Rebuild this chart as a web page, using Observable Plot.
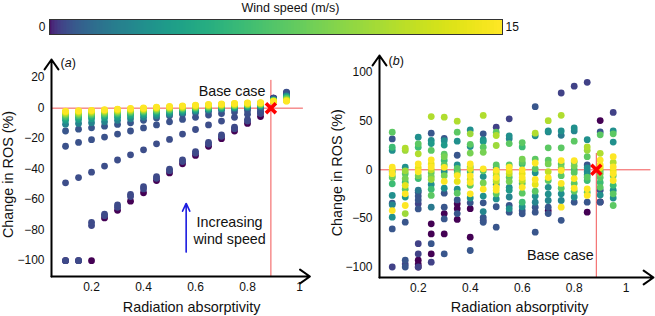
<!DOCTYPE html>
<html><head><meta charset="utf-8">
<script src="https://cdn.jsdelivr.net/npm/d3@7"></script>
<script src="https://cdn.jsdelivr.net/npm/@observablehq/plot@0.6"></script>
<style>
body{margin:0;background:#fff;}
#root{position:relative;width:655px;height:316px;overflow:hidden;font-family:"Liberation Sans",Arial,sans-serif;}
#root svg{position:absolute;}
</style></head><body><div id="root"></div>
<script>
// ---------- data ----------
const absorptivity = [0.1,0.15,0.2,0.25,0.3,0.35,0.4,0.45,0.5,0.55,0.6,0.65,0.7,0.75,0.8,0.85,0.9,0.95];
const xTicks = [0.2,0.4,0.6,0.8,1];
const yTicksA = [-100,-80,-60,-40,-20,0,20];
const yTicksB = [-100,-50,0,50,100];
const windDomain = [0,15];
const baseCaseA = 0.89, baseCaseB = 0.885;

// panel (a): one series per wind speed, values at each absorptivity
const windA = [0,0.5,0.55,0.6,0.7,0.8,2.5,4,5.2,6.8,8.2,9.7,11,12.5,13.7,15];
const rosA = [
 [-100,-100,-100,-72,-67,-61,-55.5,-47.5,-42.5,-36.5,-31,-25,-20,-15,-10,-5.5,6.5,8],
 [-100,-100,-77,-70.5,-65,-58,-53,-46,-41,-35,-29.5,-23.5,-18.5,-13.5,-8.5,-3.5,6.5,9.5],
 [-100,-100,-75,-69.5,-63.5,-56.5,-51.5,-45,-40,-34,-28.5,-22.5,-17.5,-12.5,-7.5,-3,6.5,10],
 [-49,-45.5,-42,-38,-34,-30.6,-27.3,-23.4,-20.5,-17,-14,-11,-8.5,-6,-4,-2,6,10.5],
 [-25,-22.5,-20.7,-19,-17,-15,-13,-11,-9,-7.4,-6,-4.5,-3.5,-2.5,-1.5,-0.5,6,10],
 [-15,-13.8,-12.9,-11.8,-10.7,-9.6,-8,-6.5,-5,-4,-3,-2,-1,-0.5,0,0.5,5.5,9],
 [-10.5,-10,-9.5,-9,-8,-7,-6,-5,-4,-3,-2,-1.2,-0.5,0,0.5,1,5.5,8],
 [-8,-7.5,-7,-6.5,-6,-5.2,-4.4,-3.5,-2.8,-2,-1.2,-0.5,0,0.5,1,1.5,5,7.5],
 [-6.5,-6,-5.5,-5,-4.5,-4,-3.2,-2.5,-1.8,-1.2,-0.5,0,0.5,1,1.5,2,5,7],
 [-5.5,-5,-4.5,-4,-3.5,-3,-2.5,-1.8,-1.2,-0.6,0,0.5,1,1.5,2,2.3,5,6.5],
 [-4.5,-4.2,-3.8,-3.3,-2.8,-2.3,-1.8,-1.2,-0.7,-0.1,0.4,0.9,1.4,1.8,2.2,2.5,4.8,6],
 [-3.8,-3.5,-3.1,-2.6,-2.2,-1.7,-1.3,-0.7,-0.2,0.3,0.8,1.3,1.7,2,2.4,2.8,4.8,5.5],
 [-3.2,-2.9,-2.6,-2.1,-1.7,-1.3,-0.9,-0.3,0.2,0.6,1.1,1.6,2,2.3,2.7,3,4.6,5.2],
 [-2.7,-2.4,-2.1,-1.6,-1.3,-0.9,-0.5,0.1,0.5,0.9,1.4,1.9,2.3,2.6,3,3.2,4.6,5],
 [-2.3,-2,-1.7,-1.3,-0.9,-0.5,-0.2,0.4,0.8,1.2,1.7,2.1,2.5,2.9,3.2,3.4,4.5,4.8],
 [-2,-1.7,-1.4,-1,-0.6,-0.2,0.1,0.7,1.1,1.5,2,2.4,2.8,3.1,3.4,3.6,4.5,4.6]
];

// panel (b): per absorptivity column, [change in ROS, wind speed]
const rosB = [
 [[38.7,7.9],[31.8,0.8],[23.2,6.5],[19.9,3.2],[2.7,15],[0,13.8],[-2,3.8],[-4,15],[-6,9],[-8,7.9],[-14.4,6.5],[-26.4,3.2],[-34.3,0.8],[-36,2.6],[-41.9,15],[-48.7,3.2],[-60.8,0.8],[-100,0.4]],
 [[22.2,11.3],[19.9,10.5],[2.7,3.2],[-1,10.5],[-4,7.9],[-9,9],[-12.7,6.5],[-16,13.8],[-20,7.9],[-24.7,15],[-28,3.8],[-36.7,15],[-45,10.5],[-53.9,0.8],[-93,0.8],[-97,0.4],[-100,0.8]],
 [[33.6,3.2],[26.7,7.9],[23.2,6.5],[16.4,11.3],[6.2,15],[2,13.8],[-2,15],[-6,9],[-9,6.5],[-21,2],[-23,0.8],[-27,0.8],[-31,0.8],[-35,0.4],[-40.2,0.8],[-76,0.4],[-86.5,0.4],[-93,0],[-97,0],[-100,0],[-100,0.4]],
 [[54.8,11.3],[37.7,0.8],[30.2,3.2],[27,3.8],[19.9,7.9],[10.3,15],[6,13.8],[3,15],[0,12],[-3,7.9],[-7,9],[-10,10.5],[-15,3.2],[-20,6.5],[-26.4,7.9],[-38.4,2],[-55.6,0],[-66,0],[-76,0.8],[-86.5,0],[-95,0.4]],
 [[54.1,11.3],[32.3,0.8],[30,3.2],[25.4,3.8],[16.1,7.9],[13.5,9],[9.6,6.5],[5,7.9],[2.5,15],[-2,3.2],[-6,9],[-12,15],[-19,3.2],[-24,0.8],[-38.4,0.8],[-45,0],[-50.5,0.8],[-66,0],[-86.5,0.8]],
 [[50,11.3],[38.7,7.9],[29.5,3.2],[15,0.8],[5,3.2],[1.5,7.9],[-1,3.8],[-4,9],[-5.9,15],[-12,13.8],[-20,3.2],[-24,7.9],[-31,0.8],[-35,0],[-40,0],[-45,0.8],[-51,0]],
 [[41,3.2],[37,10.5],[26.2,7.9],[24,3.2],[17.2,9],[6,15],[3,7.9],[1,13.8],[-2,6.5],[-6,15],[-10,12],[-13,15],[-16,7.9],[-24.7,15],[-29,3.2],[-34,0.8],[-40,0],[-69.3,0],[-83,0.8]],
 [[55.9,11.3],[37,0.8],[31,3.2],[29,3.8],[23.2,7.9],[18,9],[1,15],[-1,7.9],[-7,3.2],[-13.5,9],[-20,15],[-27,3.2],[-34,0.8],[-43,2.6],[-49,0.8],[-52,0.4],[-54,0.8]],
 [[43.8,0.4],[38.7,7.9],[35.3,11.3],[25,10.5],[5,7.9],[2,3.2],[-0.5,15],[-3,12],[-6,7.9],[-8,15],[-10,9],[-12,12],[-15,3.2],[-18,15],[-21,15],[-24.7,7.9],[-30,3.2],[-38,0.8],[-59,0.8]],
 [[52.5,0.4],[35,3.2],[32,2.6],[27,7.9],[5,7.9],[2.7,15],[-1,13.8],[-4,12],[-7.6,7.9],[-12,9],[-18,3.2],[-21,3.8],[-28,2.6],[-36.7,0.8],[-40,3.2],[-43.6,0.8]],
 [[28,7.9],[23.5,6.5],[11,9],[8,7.9],[6.1,6.5],[0,15],[-4,13.8],[-8,15],[-11,12],[-14,7.9],[-18,15],[-24,7.9],[-33.3,6.5],[-38,3.2],[-42,0.8],[-45.3,0.8]],
 [[65,0.8],[37.7,11.3],[35,3.2],[11,7.9],[7,15],[1,7.9],[-3,3.2],[-10,15],[-15,13.8],[-22,7.9],[-27,3.2],[-33.3,2.6],[-38.4,0.8],[-43.6,0.8],[-64.2,0.8]],
 [[50.5,11.3],[40,3.2],[39,2.6],[22.6,7.9],[10,7.9],[6,9],[-2,12],[-8,15],[-11,7.9],[-18,3.2],[-25,3.2],[-31.6,2.6],[-38.4,0.8],[-42,0],[-45,0.8]],
 [[79,0.4],[56,11.3],[40,3.2],[35.5,2],[22.6,7.9],[9.5,15],[6,7.9],[2,9],[-0.7,15],[-6,7.9],[-14,15],[-19,7.9],[-24.7,3.2],[-31.6,2.6],[-38.4,15],[-52,0.8]],
 [[86,0.4],[43,3.2],[40,2.6],[29.5,7.9],[9.5,15],[8,7.9],[4,9],[0,6.5],[-3,7.9],[-9,15],[-14,7.9],[-19,15],[-22,7.9],[-28,3.2],[-33.3,0.8]],
 [[90,0.4],[31,3.2],[23.5,11.3],[20,10.5],[13.5,7.9],[5,0.8],[2,3.2],[-2,2.6],[-5,3.2],[-7.6,7.9],[-11,6.5],[-19.6,15],[-23,7.9],[-26.4,15],[-33.3,0.8],[-43.6,0]],
 [[50.7,0],[39,0.8],[36,7.9],[17,11.3],[10,15],[5,15],[2,13.8],[-1,7.9],[-4,9],[-8,7.9],[-13,6.5],[-18,7.9],[-21,0.8],[-26,3.2],[-33.3,0.8],[-33,0]],
 [[59,0.4],[40,3.2],[37,7.9],[28.5,3.2],[13.5,15],[7.5,11.3],[3,15],[-1,13.8],[-4,15],[-6,7.9],[-11,15],[-16,6.5],[-21,3.2],[-24.7,7.9],[-29,3.2],[-36.7,7.9]]
];

// ---------- layout constants ----------
const FONT = "Liberation Sans, Arial, Helvetica, sans-serif";
const xDomA = [0.046, 1.04], yDomA = [-110.4, 31.9];
const xDomB = [0.051, 1.105], yDomB = [-110.8, 117.6];
const colorOpt = {type: "pow", exponent: 0.45, scheme: "viridis", domain: windDomain};
const fmtTick = d => d < 0 ? "\u2212" + Math.abs(d) : String(d);

const pointsA = windA.flatMap((w, i) => rosA[i].map((v, j) => ({x: absorptivity[j], y: v, wind: w})));
const pointsB = rosB.flatMap((col, j) => col.map(([v, w]) => ({x: absorptivity[j], y: v, wind: w})))
  .sort((a, b) => a.wind - b.wind);

const root = document.getElementById("root");
function place(svg, left, top) {
  svg.style.position = "absolute";
  svg.style.left = left + "px";
  svg.style.top = top + "px";
  root.appendChild(svg);
  return svg;
}
const baseStyle = {background: "transparent", fontFamily: FONT, fontSize: "12px", overflow: "visible", color: "#111"};

function axesMarks(xDom, yDom, yTicks) {
  return [
    Plot.arrow([{x1: xDom[0], y1: yDom[0], x2: xDom[1], y2: yDom[0]}], {x1: "x1", y1: "y1", x2: "x2", y2: "y2", stroke: "#000", strokeWidth: 2, headLength: 9, headAngle: 70}),
    Plot.arrow([{x1: xDom[0], y1: yDom[0], x2: xDom[0], y2: yDom[1]}], {x1: "x1", y1: "y1", x2: "x2", y2: "y2", stroke: "#000", strokeWidth: 2, headLength: 9, headAngle: 70}),
    Plot.text(xTicks, {x: d => d, y: yDom[0], text: d => String(d), dy: 11, fontSize: 12, fill: "#111"}),
    Plot.text(yTicks, {x: xDom[0], y: d => d, text: fmtTick, textAnchor: "end", dx: -7, fontSize: 12, fill: "#111"})
  ];
}

// ---------- colorbar ----------
const rampStep = 15 / 300;
const ramp = d3.range(0, 15, rampStep);
place(Plot.plot({
  width: 655, height: 40, marginLeft: 49, marginRight: 153, marginTop: 19, marginBottom: 6,
  x: {domain: windDomain, axis: null}, color: colorOpt, style: baseStyle,
  marks: [
    Plot.rect(ramp, {x1: d => d, x2: d => Math.min(15, d + rampStep * 1.6), fill: d => d + rampStep / 2, shapeRendering: "crispEdges"}),
    Plot.frame({stroke: "#333", strokeWidth: 1}),
    Plot.text([windDomain[0]], {x: d => d, text: d => String(d), textAnchor: "end", dx: -4, fontSize: 12, fill: "#111"}),
    Plot.text([windDomain[1]], {x: d => d, text: d => String(d), textAnchor: "start", dx: 3, fontSize: 12, fill: "#111"}),
    Plot.text(["Wind speed (m/s)"], {frameAnchor: "top", lineAnchor: "middle", dy: -12, dx: 14.5, fontSize: 12.5, fill: "#111"})
  ]
}), 0, 0);

// ---------- panel (a) ----------
place(Plot.plot({
  width: 330, height: 276, marginLeft: 51, marginRight: 20.6, marginTop: 19, marginBottom: 40,
  x: {domain: xDomA, axis: null}, y: {domain: yDomA, axis: null}, color: colorOpt, style: baseStyle,
  marks: [
    Plot.ruleY([0], {x1: xDomA[0], x2: 1.015, stroke: "#f25555", strokeWidth: 1}),
    Plot.ruleX([baseCaseA], {y1: 18.2, y2: yDomA[0], stroke: "#f25555", strokeWidth: 1}),
    Plot.dot(pointsA, {x: "x", y: "y", fill: "wind", r: 3.4}),
    Plot.dot([{x: baseCaseA, y: 0}], {x: "x", y: "y", symbol: "times", r: 4.6, stroke: "#ff0000", strokeWidth: 3.6, fill: "none"}),
    ...axesMarks(xDomA, yDomA, yTicksA),
    Plot.text(["Base case"], {x: 0.869, y: 11.1, textAnchor: "end", fontSize: 14.3, fill: "#111"}),
    Plot.arrow([{x1: 0.564, y1: -94.4, x2: 0.564, y2: -62.5}], {x1: "x1", y1: "y1", x2: "x2", y2: "y2", stroke: "#1c1ce0", strokeWidth: 1.6, headLength: 8, headAngle: 50}),
    Plot.text(["Increasing\nwind speed"], {x: 0.731, y: -79.7, fontSize: 14.3, lineHeight: 1.19, fill: "#111"}),
    Plot.text(["(a)"], {x: 0.0808, y: 29.5, textAnchor: "start", fontSize: 12.5, fill: "#111"}),
    Plot.text(["Radiation absorptivity"], {x: 0.585, y: yDomA[0], dy: 30.7, fontSize: 14.4, fill: "#111"}),
    Plot.text(["Change in ROS (%)"], {x: xDomA[0] - 43 / 260, y: -43.5, rotate: -90, fontSize: 14.4, fill: "#111"})
  ]
}), 0, 40);

// ---------- panel (b) ----------
place(Plot.plot({
  width: 325, height: 276, marginLeft: 49, marginRight: 2, marginTop: 15, marginBottom: 39,
  x: {domain: xDomB, axis: null}, y: {domain: yDomB, axis: null}, color: colorOpt, style: baseStyle,
  marks: [
    Plot.ruleY([0], {x1: xDomB[0], x2: 1.095, stroke: "#f25555", strokeWidth: 1}),
    Plot.ruleX([baseCaseB], {y1: 16.8, y2: yDomB[0], stroke: "#f25555", strokeWidth: 1}),
    Plot.dot(pointsB, {x: "x", y: "y", fill: "wind", r: 3.4}),
    Plot.dot([{x: baseCaseB, y: 0}], {x: "x", y: "y", symbol: "times", r: 4.6, stroke: "#ff0000", strokeWidth: 3.6, fill: "none"}),
    ...axesMarks(xDomB, yDomB, yTicksB),
    Plot.text(["Base case"], {x: 0.875, y: -88.2, textAnchor: "end", fontSize: 14.3, fill: "#111"}),
    Plot.text(["(b)"], {x: 0.0858, y: 112.4, textAnchor: "start", fontSize: 12.5, fill: "#111"}),
    Plot.text(["Radiation absorptivity"], {x: 0.59, y: yDomB[0], dy: 29.7, fontSize: 14.4, fill: "#111"}),
    Plot.text(["Change in ROS (%)"], {x: xDomB[0] - 42 / 260, y: -3, rotate: -90, fontSize: 14.4, fill: "#111"})
  ]
}), 330, 40);

// italic panel letters
d3.select(root).selectAll("text").each(function() {
  const t = this.textContent;
  if (t === "(a)" || t === "(b)") {
    const el = d3.select(this);
    const tgt = el.select("tspan").empty() ? el : el.select("tspan");
    tgt.text(null);
    tgt.append("tspan").text("(");
    tgt.append("tspan").attr("font-style", "italic").text(t[1]);
    tgt.append("tspan").text(")");
  }
});
</script>
</body></html>
